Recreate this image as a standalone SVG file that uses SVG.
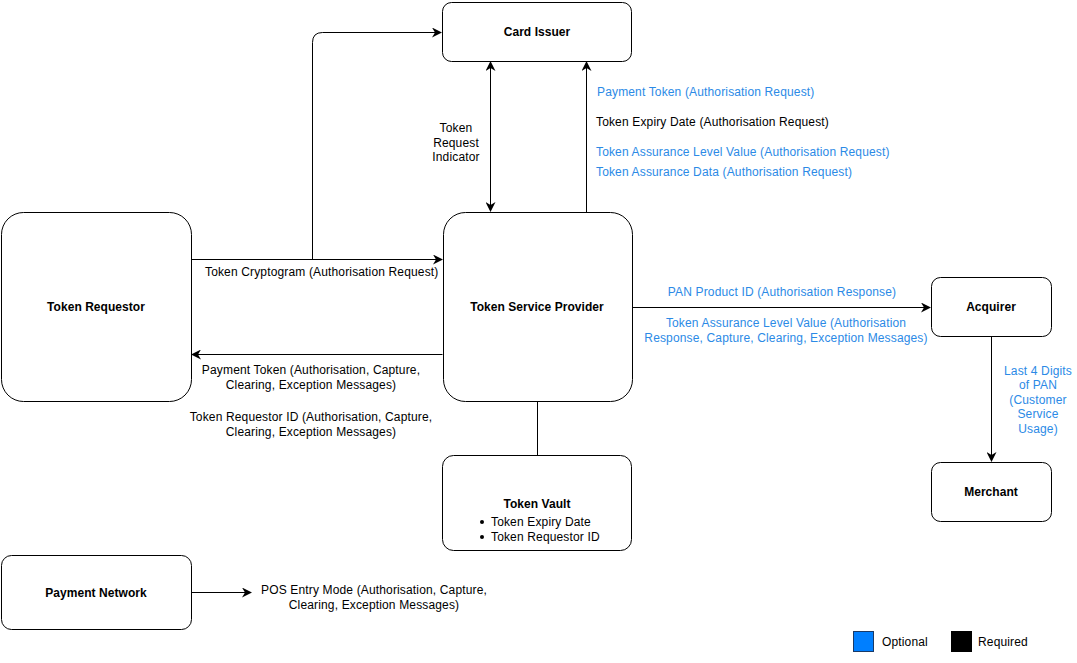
<svg xmlns="http://www.w3.org/2000/svg" width="1077" height="663" viewBox="0 0 1077 663">
<defs>
<marker id="arr" viewBox="0 0 10 10" refX="9" refY="5" markerWidth="10" markerHeight="10" markerUnits="userSpaceOnUse" orient="auto-start-reverse">
<path d="M0,0 L10,5 L0,10 L3,5 Z" fill="#000"/>
</marker>
<style>
.n{fill:#fff;stroke:#000;stroke-width:1}
.c{fill:none;stroke:#000;stroke-width:1}
text{font-family:"Liberation Sans",Arial,sans-serif;font-size:12px;fill:#000;letter-spacing:0.15px}
.b{font-weight:bold;letter-spacing:0.05px}
.o{fill:#2b8ae6}
.m{text-anchor:middle}
</style>
</defs>
<rect width="1077" height="663" fill="#fff"/>
<g id="connectors">
<path class="c" d="M191.5,259.5 H442" marker-end="url(#arr)"/>
<path class="c" d="M312.5,259.5 V42.5 Q312.5,32.5 322.5,32.5 H441" marker-end="url(#arr)"/>
<path class="c" d="M442.5,354.5 H192" marker-end="url(#arr)"/>
<path class="c" d="M490.5,62 V211" marker-start="url(#arr)" marker-end="url(#arr)"/>
<path class="c" d="M586.5,212 V62" marker-end="url(#arr)"/>
<path class="c" d="M632,307.5 H930" marker-end="url(#arr)"/>
<path class="c" d="M991.5,336 V461" marker-end="url(#arr)"/>
<path class="c" d="M537.5,401 V455"/>
<path class="c" d="M191.5,592.5 H251" marker-end="url(#arr)"/>
</g>
<g id="labels">
<text class="m" x="456" y="132">Token</text>
<text class="m" x="456" y="147">Request</text>
<text class="m" x="456" y="161">Indicator</text>
<text class="o" x="597" y="96">Payment Token (Authorisation Request)</text>
<text x="596" y="126">Token Expiry Date (Authorisation Request)</text>
<text class="o" x="596" y="156">Token Assurance Level Value (Authorisation Request)</text>
<text class="o" x="596" y="176">Token Assurance Data (Authorisation Request)</text>
<text x="205" y="276">Token Cryptogram (Authorisation Request)</text>
<text class="m" x="311" y="374">Payment Token (Authorisation, Capture,</text>
<text class="m" x="311" y="389">Clearing, Exception Messages)</text>
<text class="m" x="311" y="421">Token Requestor ID (Authorisation, Capture,</text>
<text class="m" x="311" y="436">Clearing, Exception Messages)</text>
<text class="o m" x="782" y="296">PAN Product ID (Authorisation Response)</text>
<text class="o m" x="786" y="327">Token Assurance Level Value (Authorisation</text>
<text class="o m" x="786" y="342">Response, Capture, Clearing, Exception Messages)</text>
<text class="o m" x="1038" y="375">Last 4 Digits</text>
<text class="o m" x="1038" y="389">of PAN</text>
<text class="o m" x="1038" y="404">(Customer</text>
<text class="o m" x="1038" y="418">Service</text>
<text class="o m" x="1038" y="433">Usage)</text>
<text class="m" x="374" y="594">POS Entry Mode (Authorisation, Capture,</text>
<text class="m" x="374" y="609">Clearing, Exception Messages)</text>
</g>
<g id="card-issuer">
<rect class="n" x="442.5" y="2.5" width="189" height="59" rx="9"/>
<text class="b m" x="537" y="36">Card Issuer</text>
</g>
<g id="token-requestor">
<rect class="n" x="1.5" y="212.5" width="190" height="189" rx="22"/>
<text class="b m" x="96" y="311">Token Requestor</text>
</g>
<g id="token-service-provider">
<rect class="n" x="443.5" y="212.5" width="189" height="189" rx="22"/>
<text class="b m" x="537" y="311">Token Service Provider</text>
</g>
<g id="acquirer">
<rect class="n" x="931.5" y="277.5" width="120" height="59" rx="9"/>
<text class="b m" x="991" y="311">Acquirer</text>
</g>
<g id="merchant">
<rect class="n" x="931.5" y="462.5" width="120" height="59" rx="9"/>
<text class="b m" x="991" y="496">Merchant</text>
</g>
<g id="token-vault">
<rect class="n" x="442.5" y="455.5" width="189" height="95" rx="11"/>
<text class="b m" x="537" y="508">Token Vault</text>
<circle cx="482" cy="522" r="2"/>
<text x="491" y="526">Token Expiry Date</text>
<circle cx="482" cy="537" r="2"/>
<text x="491" y="541">Token Requestor ID</text>
</g>
<g id="payment-network">
<rect class="n" x="1.5" y="555.5" width="190" height="74" rx="10"/>
<text class="b m" x="96" y="597">Payment Network</text>
</g>
<g id="legend">
<rect x="853.5" y="631.5" width="20" height="20" fill="#007fff" stroke="#1a3a66"/>
<text x="882" y="646">Optional</text>
<rect x="951.5" y="631.5" width="20" height="20" fill="#000" stroke="#000"/>
<text x="978" y="646">Required</text>
</g>
</svg>
